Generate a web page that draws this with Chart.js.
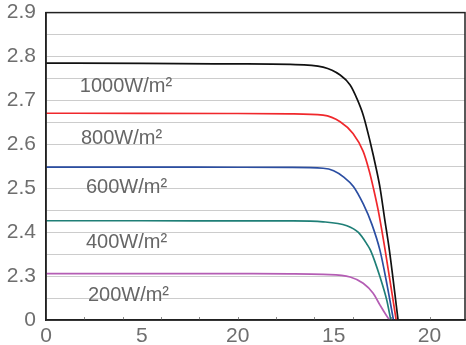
<!DOCTYPE html>
<html>
<head>
<meta charset="utf-8">
<script src="https://cdn.jsdelivr.net/npm/chart.js@4/dist/chart.umd.min.js"></script>
<style>
  html, body { margin: 0; padding: 0; background: #fff; overflow: hidden; }
  #wrap { width: 466px; height: 355px; position: relative; margin-top: -10px; }
</style>
</head>
<body>
<div id="wrap"><canvas id="c"></canvas></div>
<script>
// Tick labels as printed on the axes
const yTickLabels = ['0', '2.3', '2.4', '2.5', '2.6', '2.7', '2.8', '2.9'];
const xTickValues = [0, 5, 10, 15, 20];
const xTickLabels = ['0', '5', '20', '15', '20'];

// Irradiance levels
const irradianceLabels = ['1000W/m²', '800W/m²', '600W/m²', '400W/m²', '200W/m²'];

// I-V curves: voltage (V) and current (A) per irradiance
const v1000 = [0, 5, 10, 12.73, 14.45, 15.34, 15.86, 16.22, 16.54, 16.90, 17.25, 17.42, 17.66, 17.91, 18.36];
const i1000 = [2.925, 2.921, 2.916, 2.910, 2.879, 2.789, 2.676, 2.518, 2.335, 2.033, 1.694, 1.505, 1.152, 0.790, 0];

const v800 = [0, 5, 10, 12.73, 14.45, 15.34, 16.01, 16.54, 16.86, 17.07, 17.33, 17.69, 18.26];
const i800 = [2.354, 2.353, 2.351, 2.348, 2.332, 2.258, 2.123, 1.920, 1.694, 1.505, 1.242, 0.790, 0];

const v600 = [0, 5, 10, 12.73, 14.45, 15.0, 15.51, 16.03, 16.55, 16.99, 17.42, 17.79, 18.12];
const i600 = [1.740, 1.740, 1.739, 1.738, 1.728, 1.700, 1.630, 1.520, 1.318, 1.092, 0.790, 0.395, 0];

const v400 = [0, 5, 10, 12.73, 14.45, 15.69, 16.29, 16.73, 16.93, 17.42, 17.77, 17.98];
const i400 = [1.130, 1.130, 1.129, 1.128, 1.118, 1.073, 0.997, 0.866, 0.790, 0.489, 0.226, 0];

const v200 = [0, 5, 10, 12.73, 14.45, 15.86, 16.54, 17.06, 17.42, 17.77, 17.92];
const i200 = [0.528, 0.528, 0.527, 0.526, 0.519, 0.489, 0.418, 0.305, 0.169, 0.045, 0];

// Where each irradiance caption sits, in axis units
const captionX = [4.17, 3.94, 4.20, 4.20, 4.30];
const captionY = [2.654, 2.066, 1.507, 0.886, 0.282];

const curveColors = ['#111111', '#f0282c', '#2b4ea2', '#1f7f77', '#b45db4'];

const zip = (xs, ys) => xs.map((x, k) => ({ x: x, y: ys[k] }));
const curves = [[v1000, i1000], [v800, i800], [v600, i600], [v400, i400], [v200, i200]];

const datasets = curves.map((c, k) => ({
  label: irradianceLabels[k],
  data: zip(c[0], c[1]),
  borderColor: curveColors[k],
  borderWidth: 1.7,
  pointRadius: 0,
  showLine: true,
  fill: false,
  cubicInterpolationMode: 'monotone'
}));

const tickFont = { family: '"Liberation Sans", Arial, sans-serif', size: 21 };

// Frame around the plot, inward minor ticks on the voltage axis, and curve captions
const decorations = {
  id: 'decorations',
  afterDatasetsDraw(chart) {
    const ctx = chart.ctx;
    const a = chart.chartArea;
    const xs = chart.scales.x;
    const ys = chart.scales.y;
    ctx.save();
    // minor ticks every 2 V pointing into the plot
    ctx.strokeStyle = '#8a8a8a';
    ctx.lineWidth = 1;
    for (let v = 2; v < xs.max; v += 2) {
      const px = Math.round(xs.getPixelForValue(v)) + 0.5;
      ctx.beginPath();
      ctx.moveTo(px, a.bottom);
      ctx.lineTo(px, a.bottom - 3);
      ctx.stroke();
    }
    // frame
    ctx.strokeStyle = '#222222';
    ctx.lineWidth = 1.5;
    ctx.strokeRect(a.left, a.top, a.right - a.left, a.bottom - a.top);
    // captions
    ctx.fillStyle = '#666666';
    ctx.font = '20px "Liberation Sans", Arial, sans-serif';
    ctx.textAlign = 'center';
    ctx.textBaseline = 'middle';
    irradianceLabels.forEach((t, k) => {
      ctx.fillText(t, xs.getPixelForValue(captionX[k]), ys.getPixelForValue(captionY[k]));
    });
    ctx.restore();
  }
};

new Chart(document.getElementById('c'), {
  type: 'scatter',
  data: { datasets: datasets },
  options: {
    responsive: true,
    maintainAspectRatio: false,
    animation: false,
    layout: { padding: { top: 0, right: 1, left: 0, bottom: 0 } },
    plugins: { legend: { display: false }, tooltip: { enabled: false } },
    scales: {
      x: {
        type: 'linear',
        min: 0,
        max: 21.85,
        grid: { display: false, drawTicks: false },
        border: { display: true, color: '#222222', width: 1.5 },
        afterBuildTicks(scale) {
          scale.ticks = xTickValues.map(v => ({ value: v }));
        },
        afterFit(scale) { scale.height = 25; },
        ticks: {
          autoSkip: false,
          maxRotation: 0,
          padding: 4,
          color: '#6e6e6e',
          font: tickFont,
          callback(value) {
            const k = xTickValues.indexOf(value);
            return k >= 0 ? xTickLabels[k] : '';
          }
        }
      },
      y: {
        type: 'linear',
        min: 0,
        max: 3.5,
        grid: { color: '#cccccc', lineWidth: 1, drawTicks: false },
        border: { display: true, color: '#222222', width: 1.5 },
        afterFit(scale) { scale.width = 46; },
        ticks: {
          stepSize: 0.25,
          autoSkip: false,
          padding: 10,
          color: '#6e6e6e',
          font: tickFont,
          callback(value, index) {
            return index % 2 === 0 ? yTickLabels[index / 2] : '';
          }
        }
      }
    }
  },
  plugins: [decorations]
});
</script>
</body>
</html>
